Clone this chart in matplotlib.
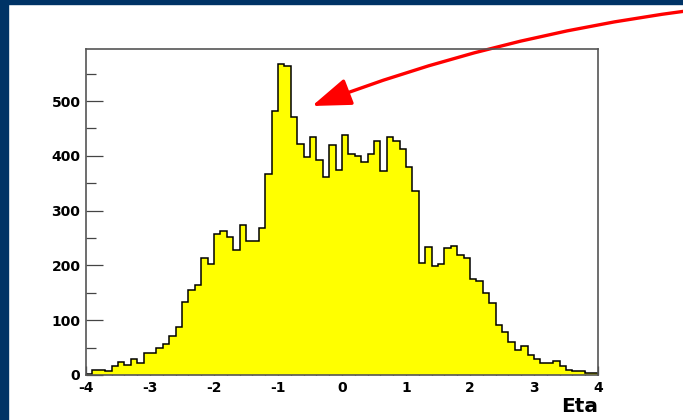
import numpy as np
import matplotlib
matplotlib.use('Agg')
import matplotlib.pyplot as plt
from matplotlib.patches import Rectangle, ArrowStyle
from matplotlib.ticker import MultipleLocator

# Eta histogram, 80 bins of 0.1 from -4 to 4
bin_edges = np.linspace(-4, 4, 81)
counts = [2, 9, 9, 7, 17, 23, 19, 29, 21, 41,
          40, 50, 56, 71, 87, 133, 156, 164, 213, 202,
          257, 262, 252, 228, 273, 244, 244, 269, 366, 482,
          567, 564, 471, 421, 397, 435, 392, 362, 419, 374,
          438, 404, 400, 389, 404, 427, 372, 435, 427, 413,
          380, 336, 205, 234, 199, 202, 231, 235, 219, 213,
          176, 172, 149, 131, 92, 78, 60, 46, 53, 36,
          29, 22, 21, 26, 16, 9, 7, 8, 4, 4]
x_ticks = [-4, -3, -2, -1, 0, 1, 2, 3, 4]
y_ticks = [0, 100, 200, 300, 400, 500]

fig = plt.figure(figsize=(6.83, 4.2), dpi=100)
fig.patch.set_facecolor('white')

# navy slide border (top and left only)
navy = '#003366'
fig.add_artist(Rectangle((0, 1 - 4 / 420), 1, 4 / 420, transform=fig.transFigure,
                         color=navy, zorder=0))
fig.add_artist(Rectangle((0, 0), 8 / 683, 1, transform=fig.transFigure,
                         color=navy, zorder=0))

ax = fig.add_axes([86 / 683, 45 / 420, 512 / 683, 326 / 420])
ax.stairs(counts, bin_edges, fill=True, color='#ffff00', zorder=2)
ax.stairs(counts, bin_edges, color='black', linewidth=1.1, baseline=0, zorder=3)

ax.set_xlim(-4, 4)
ax.set_ylim(0, 595)
ax.set_xticks(x_ticks)
ax.set_yticks(y_ticks)
ax.xaxis.set_minor_locator(MultipleLocator(0.2))
ax.yaxis.set_minor_locator(MultipleLocator(50))

lab = dict(fontfamily='DejaVu Sans', fontweight='bold', fontsize=10)
ax.set_xticklabels([str(t) for t in x_ticks], **lab)
ax.set_yticklabels([str(t) for t in y_ticks], **lab)

ax.tick_params(axis='x', which='major', direction='in', length=6.5, width=0.9,
               color='#333333', pad=4)
ax.tick_params(axis='x', which='minor', direction='in', length=3.2, width=0.9,
               color='#333333')
ax.tick_params(axis='y', which='major', direction='in', length=12, width=0.9,
               color='#444444', pad=4)
ax.tick_params(axis='y', which='minor', direction='in', length=7, width=0.9,
               color='#444444')
for s in ax.spines.values():
    s.set_color('#555555')
    s.set_linewidth(1.2)
    s.set_zorder(4)

fig.text(598 / 683, 1 - 407 / 420, 'Eta', ha='right', va='center',
         fontfamily='DejaVu Sans', fontweight='bold', fontsize=14.5)

# red curved arrow pointing at the peak
ax.annotate('', xy=(312, 420 - 106), xycoords='figure pixels',
            xytext=(686, 420 - 11), textcoords='figure pixels',
            arrowprops=dict(arrowstyle=ArrowStyle('-|>', head_length=2.4, head_width=0.85),
                            color='red', linewidth=2.4,
                            connectionstyle='arc3,rad=0.06',
                            shrinkA=0, shrinkB=0),
            annotation_clip=False)

fig.savefig('out.png', dpi=100)
